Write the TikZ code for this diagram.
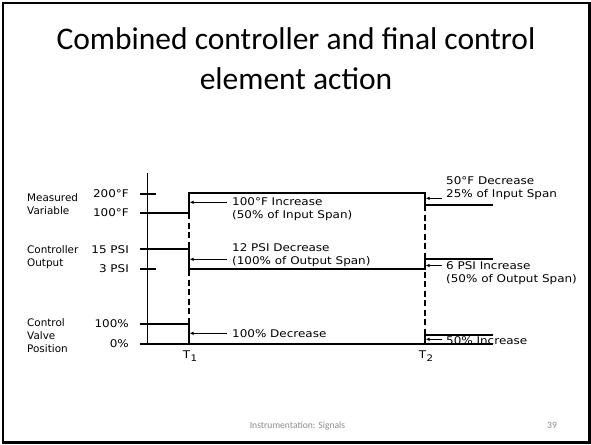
\documentclass[tikz,border=0pt]{standalone}
\usepackage{fontspec}
\setmainfont{Carlito}
\newfontfamily\cadfont[FakeStretch=1.13]{DejaVu Sans}
\newfontfamily\cadplain{DejaVu Sans}
\usetikzlibrary{arrows.meta}
\begin{document}
\begin{tikzpicture}[x=1pt,y=-1pt,
  trace/.style={line width=1.1pt},
  guide/.style={line width=1.1pt, dash pattern=on 6pt off 3.5pt},
  pointer/.style={line width=1.1pt, -{Latex[length=4pt,width=3.5pt]}},
  cad/.style={font=\cadfont\fontsize{10.6}{13}\selectfont, inner sep=0pt, align=left},
  rowlabel/.style={font=\cadplain\fontsize{10.4}{13}\selectfont, inner sep=0pt, align=left},
  tlabel/.style={font=\cadfont\fontsize{10.6}{13}\selectfont, inner sep=0pt}]
\useasboundingbox (0,0) rectangle (591,444);
\fill[white] (0,0) rectangle (591,444);
\draw[line width=2.6pt] (3,3) rectangle (589.5,442.5);

% title and footer
\node[font=\fontsize{31.5}{40}\selectfont, align=center, anchor=base] (title) at (296,89)
  {Combined controller and final control\\element action};
\node[font=\fontsize{9.6}{11}\selectfont, text=black!45, anchor=base] (footer) at (297.5,428) {Instrumentation: Signals};
\node[font=\fontsize{9.6}{11}\selectfont, text=black!45, anchor=base] (pagenum) at (552,428) {39};

% axis
\coordinate (axtop) at (147.7,173);
\coordinate (axbot) at (147.7,344);
\draw[trace] (axtop) -- (axbot);

% key coordinates
\coordinate (m200a) at (140,194);   \coordinate (m200b) at (156,194);
\coordinate (m100L) at (140,213);   \coordinate (t1m) at (189,213);
\coordinate (t1mt) at (189,193);    \coordinate (t2mt) at (425,193);
\coordinate (t2mb) at (425,205);    \coordinate (mR) at (493,205);
\coordinate (c15L) at (140,249);    \coordinate (t1c) at (189,249);
\coordinate (t1cb) at (189,269);    \coordinate (t2c) at (425,269);
\coordinate (t2ct) at (425,259);    \coordinate (cR) at (493,259);
\coordinate (c3a) at (140,269);     \coordinate (c3b) at (156,269);
\coordinate (v100L) at (140,324);   \coordinate (t1v) at (189,324);
\coordinate (t1vb) at (189,344);    \coordinate (v0L) at (140,344);
\coordinate (v0R) at (493,344);     \coordinate (t2vb) at (425,344);
\coordinate (t2vt) at (425,335);    \coordinate (vR) at (493,335);

% dashed time guides
\draw[guide] (t1m) -- (t1vb);
\draw[guide] (t2mb) -- (t2vb);

% measured variable
\draw[trace] (m200a) -- (m200b);
\draw[trace] (m100L) -- (t1m) -- (t1mt) -- (t2mt) -- (t2mb) -- (mR);
% controller output
\draw[trace] (c15L) -- (t1c) -- (t1cb) -- (t2c) -- (t2ct) -- (cR);
\draw[trace] (c3a) -- (c3b);
% valve position
\draw[trace] (v100L) -- (t1v) -- (t1vb);
\draw[trace] (v0L) -- (v0R);
\draw[trace] (t2vb) -- (t2vt) -- (vR);

% arrows
\coordinate (a1s) at (227,202.3); \coordinate (a1e) at (189.6,202.3);
\coordinate (a2s) at (227,259.3); \coordinate (a2e) at (189.6,259.3);
\coordinate (a3s) at (227,333.3); \coordinate (a3e) at (189.6,333.3);
\coordinate (b1s) at (442,198.3); \coordinate (b1e) at (425.6,198.3);
\coordinate (b2s) at (442,265.5); \coordinate (b2e) at (425.6,265.5);
\coordinate (b3s) at (442,339.3); \coordinate (b3e) at (425.6,339.3);
\foreach \s/\e in {a1s/a1e,a2s/a2e,a3s/a3e,b1s/b1e,b2s/b2e,b3s/b3e}
  \draw[pointer] (\s) -- (\e);

% change annotations
\node[cad, anchor=west] (n1) at (232,209.3) {100°F Increase\\(50\% of Input Span)};
\node[cad, anchor=west] (n2) at (232,255.3) {12 PSI Decrease\\(100\% of Output Span)};
\node[cad, anchor=west] (n3) at (232,333.3) {100\% Decrease};
\node[cad, anchor=west] (n4) at (446,188.5) {50°F Decrease\\25\% of Input Span};
\node[cad, anchor=west] (n5) at (446,272.8) {6 PSI Increase\\(50\% of Output Span)};
\node[cad, anchor=west] (n6) at (446,340.5) {50\% Increase};

% row labels
\node[rowlabel, anchor=west] (l1) at (27,204.5) {Measured\\Variable};
\node[rowlabel, anchor=west] (l2) at (27,257.3) {Controller\\Output};
\node[rowlabel, anchor=west] (l3) at (27,335.3) {Control\\Valve\\Position};

% scale labels
\node[tlabel, anchor=east] (s1) at (129,193.3) {200°F};
\node[tlabel, anchor=east] (s2) at (129,213) {100°F};
\node[tlabel, anchor=east] (s3) at (129,250) {15 PSI};
\node[tlabel, anchor=east] (s4) at (129,269) {3 PSI};
\node[tlabel, anchor=east] (s5) at (129,324) {100\%};
\node[tlabel, anchor=east] (s6) at (129,344) {0\%};

% time labels
\node[tlabel] (T1) at (190,356) {T\kern0.3pt\raisebox{-2.5pt}{\fontsize{9}{9}\selectfont 1}};
\node[tlabel] (T2) at (426,356) {T\kern0.3pt\raisebox{-2.5pt}{\fontsize{9}{9}\selectfont 2}};
\end{tikzpicture}
\end{document}
